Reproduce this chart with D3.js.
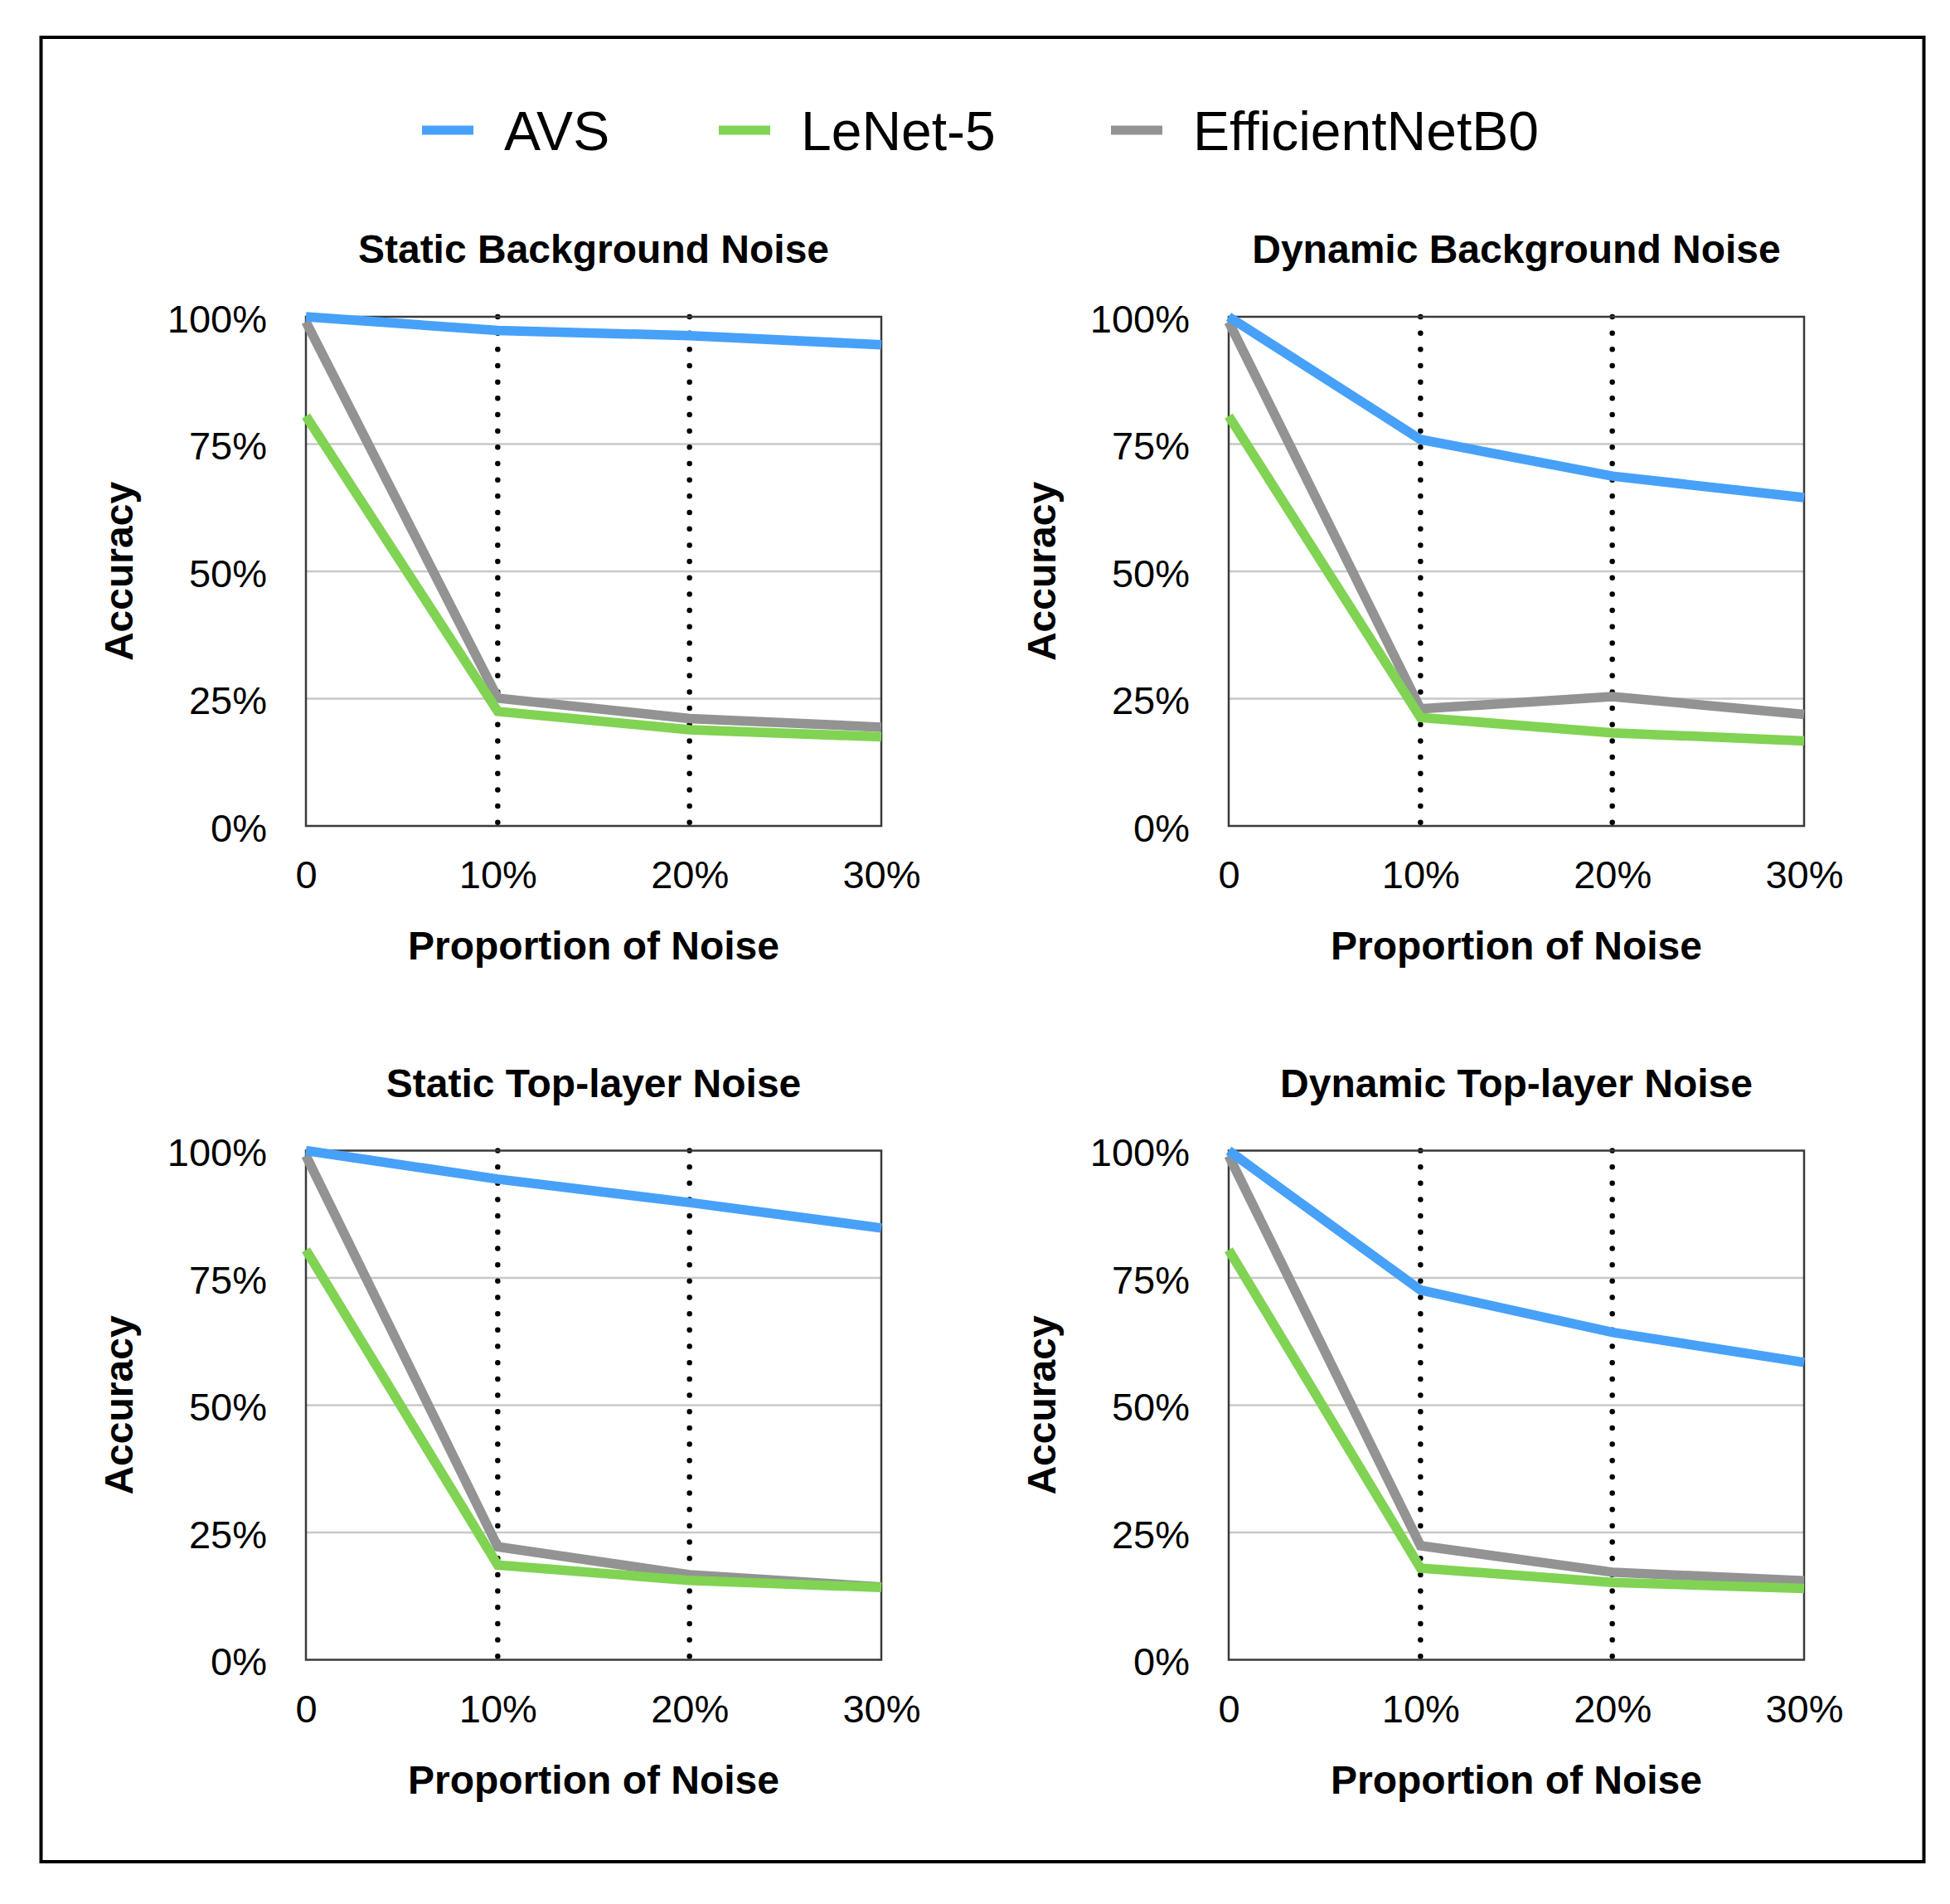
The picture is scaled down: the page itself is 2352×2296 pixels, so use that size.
<!DOCTYPE html>
<html>
<head>
<meta charset="utf-8">
<script src="https://cdn.jsdelivr.net/npm/d3@7"></script>
<style>
  body { margin: 0; background: #fff; }
  text { font-family: "Liberation Sans", Arial, Helvetica, sans-serif; fill: #000; }
</style>
</head>
<body>
<div id="chart"></div>
<script>
// values (accuracy in %)
const noiseLevels = [0, 10, 20, 30];
const noiseLabels = ["0", "10%", "20%", "30%"];
const accuracyTicks = [0, 25, 50, 75, 100];
const panelTitles = [
    "Static Background Noise",
    "Dynamic Background Noise",
    "Static Top-layer Noise",
    "Dynamic Top-layer Noise"
];
const seriesNames = ["AVS", "LeNet-5", "EfficientNetB0"];
const seriesColors = ["#47a1f8", "#80d353", "#939393"];

const avsAcc = [
    [100, 97.3, 96.3, 94.5],
    [100, 75.9, 68.7, 64.5],
    [100, 94.4, 89.8, 84.8],
    [100, 72.6, 64.3, 58.4]
];
const lenetAcc = [
    [80.5, 22.5, 18.9, 17.5],
    [80.5, 21.3, 18.3, 16.7],
    [80.5, 18.6, 15.6, 14.2],
    [80.5, 18.0, 15.2, 14.0]
];
const effAcc = [
    [99, 25.1, 21.1, 19.4],
    [99, 23.0, 25.4, 21.9],
    [99, 22.2, 16.7, 14.3],
    [99, 22.4, 17.2, 15.5]
];

const width = 2352;
const height = 2296;
const plotW = 694;
const plotH = 614;
const origin = { x: 369, y: 382 };
const step = { x: 1113, y: 1005.5 };
const legendX = [509, 867, 1340];

const svg = d3.select("#chart")
    .append("svg")
    .attr("width", width)
    .attr("height", height);

svg.append("rect")
    .attr("width", width)
    .attr("height", height)
    .attr("fill", "#fff");

// outer frame
svg.append("rect")
    .attr("x", 49.5)
    .attr("y", 45)
    .attr("width", 2271)
    .attr("height", 2200)
    .attr("fill", "none")
    .attr("stroke", "#000")
    .attr("stroke-width", 4);

// legend
seriesNames.forEach((name, i) => {
    svg.append("rect")
        .attr("x", legendX[i])
        .attr("y", 151.5)
        .attr("width", 62)
        .attr("height", 11)
        .attr("fill", seriesColors[i]);
    svg.append("text")
        .attr("x", legendX[i] + 99)
        .attr("y", 181)
        .style("font-size", "66px")
        .text(name);
});

const x = d3.scaleLinear().domain([0, 30]).range([0, plotW]);
const y = d3.scaleLinear().domain([0, 100]).range([plotH, 0]);

const line = d3.line()
    .x((d, i) => x(noiseLevels[i]))
    .y(d => y(d));

panelTitles.forEach((title, p) => {
    const col = p % 2;
    const row = Math.floor(p / 2);
    const g = svg.append("g")
        .attr("transform", `translate(${origin.x + col * step.x},${origin.y + row * step.y})`);

    // gridlines
    g.selectAll(".grid")
        .data([25, 50, 75])
        .enter()
        .append("line")
        .attr("x1", 0)
        .attr("x2", plotW)
        .attr("y1", d => y(d))
        .attr("y2", d => y(d))
        .attr("stroke", "#c8c8c8")
        .attr("stroke-width", 2.5);

    // dotted verticals
    g.selectAll(".vdot")
        .data([10, 20])
        .enter()
        .append("line")
        .attr("x1", d => x(d))
        .attr("x2", d => x(d))
        .attr("y1", 0)
        .attr("y2", plotH)
        .attr("stroke", "#000")
        .attr("stroke-width", 6.5)
        .attr("stroke-linecap", "round")
        .attr("stroke-dasharray", "0 19.67");

    // frame
    g.append("rect")
        .attr("width", plotW)
        .attr("height", plotH)
        .attr("fill", "none")
        .attr("stroke", "#3a3a3a")
        .attr("stroke-width", 2.5);

    // series, gray first so the others sit on top
    const series = [
        { data: effAcc[p], color: seriesColors[2] },
        { data: lenetAcc[p], color: seriesColors[1] },
        { data: avsAcc[p], color: seriesColors[0] }
    ];
    series.forEach(s => {
        g.append("path")
            .datum(s.data)
            .attr("fill", "none")
            .attr("stroke", s.color)
            .attr("stroke-width", 11.5)
            .attr("stroke-linejoin", "miter")
            .attr("d", line);
    });

    // axes
    const yAxis = g.append("g")
        .call(d3.axisLeft(y).tickValues(accuracyTicks).tickSize(0).tickPadding(47)
            .tickFormat(d => d + "%"));
    yAxis.select(".domain").remove();
    yAxis.selectAll("text")
        .attr("dy", "0.39em")
        .style("font-size", "47px")
        .style("font-family", "'Liberation Sans', Arial, sans-serif")
        .attr("fill", "#000");

    const xAxis = g.append("g")
        .attr("transform", `translate(0,${plotH})`)
        .call(d3.axisBottom(x).tickValues(noiseLevels).tickSize(0).tickPadding(42)
            .tickFormat((d, i) => noiseLabels[i]));
    xAxis.select(".domain").remove();
    xAxis.selectAll("text")
        .style("font-size", "47px")
        .style("font-family", "'Liberation Sans', Arial, sans-serif")
        .attr("fill", "#000");

    // titles
    g.append("text")
        .attr("x", plotW / 2)
        .attr("y", -65)
        .attr("text-anchor", "middle")
        .style("font-size", "48px")
        .style("font-weight", "bold")
        .text(title);

    g.append("text")
        .attr("x", plotW / 2)
        .attr("y", plotH + 161)
        .attr("text-anchor", "middle")
        .style("font-size", "48px")
        .style("font-weight", "bold")
        .text("Proportion of Noise");

    g.append("text")
        .attr("transform", "rotate(-90)")
        .attr("x", -plotH / 2)
        .attr("y", -209)
        .attr("text-anchor", "middle")
        .style("font-size", "48px")
        .style("font-weight", "bold")
        .text("Accuracy");
});
</script>
</body>
</html>
